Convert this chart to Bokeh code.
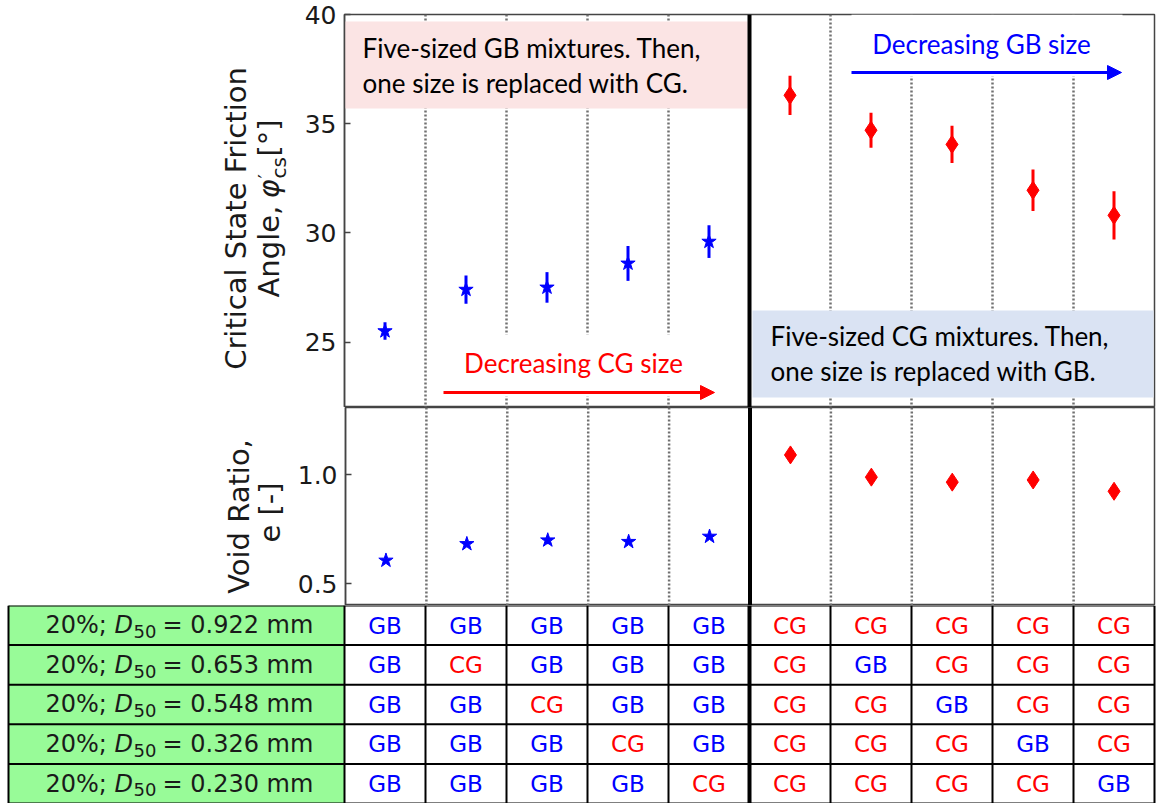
import math

from bokeh.plotting import figure
from bokeh.layouts import column, row
from bokeh.models import (Range1d, FixedTicker, PrintfTickFormatter, Span, Label,
                          Arrow, NormalHead, ColumnDataSource)
from bokeh.core.properties import value
from bokeh.embed import file_html
from bokeh.resources import INLINE

# ---------------------------------------------------------------- data
# Critical state friction angle (deg) and half-width of its error bar
gb_phi = [25.5, 27.4, 27.5, 28.6, 29.6]
gb_phi_err = [0.4, 0.65, 0.7, 0.8, 0.75]
cg_phi = [36.3, 34.7, 34.05, 31.95, 30.8]
cg_phi_err = [0.9, 0.8, 0.85, 0.95, 1.1]

# Void ratio and half-width of its error bar
gb_e = [0.607, 0.683, 0.700, 0.693, 0.717]
gb_e_err = [0.008, 0.008, 0.018, 0.010, 0.010]
cg_e = [1.092, 0.990, 0.967, 0.977, 0.925]
cg_e_err = [0.012, 0.015, 0.025, 0.018, 0.025]

# Size fractions (20% each) and the material used for each one in every mixture
d50_labels = ["0.922", "0.653", "0.548", "0.326", "0.230"]
materials = [
    ["GB", "GB", "GB", "GB", "GB", "CG", "CG", "CG", "CG", "CG"],
    ["GB", "CG", "GB", "GB", "GB", "CG", "GB", "CG", "CG", "CG"],
    ["GB", "GB", "CG", "GB", "GB", "CG", "CG", "GB", "CG", "CG"],
    ["GB", "GB", "GB", "CG", "GB", "CG", "CG", "CG", "GB", "CG"],
    ["GB", "GB", "GB", "GB", "CG", "CG", "CG", "CG", "CG", "GB"],
]

phi_ticks = [25, 30, 35, 40]
e_ticks = [0.5, 1.0]

# ---------------------------------------------------------------- layout
W = 1159
LEFT = 344          # x of the panels' left edge in px
AXIS_W = 50         # border reserved for the tick labels
TITLE_W = LEFT - AXIS_W
COL = 81            # width of one mixture column in px
NCOL = 10
RIGHT = W - LEFT - NCOL * COL
TOP_PAD = 14
PHI_H = 393
E_H = 198
TAB_H = 198
PHI_RANGE = (22, 40)
E_RANGE = (0.40, 1.31)
LIFT = 0.38         # raise of an "alphabetic" anchor, in em, so glyphs sit on it

BLUE = "#0000FF"
RED = "#FF0000"
DARK = "#444444"
INK = "#1a1a1a"
DOT = "#707070"
CAL = "Lato"        # Calibri-like face for the callouts
MPL = "DejaVu Sans"
CALLOUT = 26

n_gb = len(gb_phi)
x_gb = [i + 0.5 for i in range(n_gb)]
x_cg = [n_gb + i + 0.5 for i in range(len(cg_phi))]
separators = [i for i in range(1, NCOL) if i != n_gb]


def px_x(px):
    return (px - LEFT) / COL


def phi_y(py):
    lo, hi = PHI_RANGE
    return hi - (py - TOP_PAD) * (hi - lo) / PHI_H


def blank(width, height, xr, yr):
    p = figure(width=width, height=height, x_range=xr, y_range=yr,
               x_axis_location=None, y_axis_location=None,
               toolbar_location=None, output_backend="svg",
               min_border=0, min_border_left=0, min_border_right=0,
               min_border_top=0, min_border_bottom=0)
    p.frame_align = False
    p.grid.grid_line_color = None
    p.outline_line_color = None
    p.background_fill_color = "white"
    p.border_fill_color = "white"
    return p


def panel(height, yr, ticks, fmt, top):
    p = figure(width=W - TITLE_W, height=height, x_range=Range1d(0, NCOL), y_range=yr,
               x_axis_location=None, y_axis_location="left",
               toolbar_location=None, output_backend="svg",
               min_border_left=AXIS_W, min_border_right=RIGHT,
               min_border_top=top, min_border_bottom=0)
    p.frame_align = False
    p.grid.grid_line_color = None
    p.outline_line_color = DARK
    p.outline_line_width = 1.5
    p.background_fill_color = "white"
    p.border_fill_color = "white"
    ax = p.yaxis[0]
    ax.ticker = FixedTicker(ticks=ticks)
    ax.formatter = PrintfTickFormatter(format=fmt)
    ax.major_tick_in = 6
    ax.major_tick_out = 0
    ax.minor_tick_line_color = None
    ax.axis_line_color = DARK
    ax.axis_line_width = 1.5
    ax.major_tick_line_color = DARK
    ax.major_tick_line_width = 1.5
    ax.major_label_text_font = MPL
    ax.major_label_text_font_size = "25px"
    ax.major_label_text_color = INK
    ax.major_label_standoff = 8
    for s in separators:
        p.add_layout(Span(location=s, dimension="height", line_color=DOT,
                          line_width=2.5, line_dash="2 2", level="underlay"))
    return p


def errorbars(p, xs, ys, errs, color, marker, size):
    src = ColumnDataSource(dict(x=xs, y=ys,
                                lo=[v - e for v, e in zip(ys, errs)],
                                hi=[v + e for v, e in zip(ys, errs)]))
    p.segment(x0="x", y0="lo", x1="x", y1="hi", source=src,
              line_color=color, line_width=3)
    p.scatter(x="x", y="y", source=src, marker=marker, size=size,
              fill_color=color, line_color=color)


def vtext(p, x, y, text, size, align="center", style="normal"):
    # rotated (bottom-to-top) title text in a title strip; x is the baseline in px
    p.text(x=[x - LIFT * size], y=[y], text=[text], angle=math.pi / 2, text_align=align,
           text_baseline="alphabetic", text_font=value(MPL),
           text_font_size=value(f"{size}px"), text_font_style=style, text_color=INK)


def callout(p, px, py, text, color, align="left"):
    p.add_layout(Label(x=px_x(px), y=phi_y(py - LIFT * CALLOUT), text=text, text_font=CAL,
                       text_font_size=f"{CALLOUT}px", text_color=color,
                       text_align=align, text_baseline="alphabetic"))


# ---------------------------------------------------------------- friction angle panel
p1 = panel(TOP_PAD + PHI_H, Range1d(*PHI_RANGE), phi_ticks, "%d", TOP_PAD)

# callout boxes
p1.quad(left=[0.0], right=[px_x(747)], top=[phi_y(21)], bottom=[phi_y(108)],
        fill_color="#FBE4E4", line_color=None)
p1.quad(left=[px_x(752)], right=[px_x(1153)], top=[phi_y(310)], bottom=[phi_y(397)],
        fill_color="#DAE3F3", line_color=None)
# white backing behind the trend arrows
p1.quad(left=[px_x(443), px_x(851)], right=[px_x(716), px_x(1122)],
        top=[phi_y(334), phi_y(14)], bottom=[phi_y(396), phi_y(76)],
        fill_color="white", line_color=None)

errorbars(p1, x_gb, gb_phi, gb_phi_err, BLUE, "star", 15)
errorbars(p1, x_cg, cg_phi, cg_phi_err, RED, "diamond", 18)

p1.add_layout(Span(location=n_gb, dimension="height", line_color="black", line_width=4))

callout(p1, 362, 57, "Five-sized GB mixtures. Then,", "black")
callout(p1, 362, 92, "one size is replaced with CG.", "black")
callout(p1, 770, 345, "Five-sized CG mixtures. Then,", "black")
callout(p1, 770, 380, "one size is replaced with GB.", "black")
callout(p1, 573, 372, "Decreasing CG size", RED, align="center")
callout(p1, 981, 53, "Decreasing GB size", BLUE, align="center")

p1.add_layout(Arrow(x_start=px_x(443), y_start=phi_y(392), x_end=px_x(714), y_end=phi_y(392),
                    line_color=RED, line_width=3,
                    end=NormalHead(size=14, fill_color=RED, line_color=RED, line_width=1)))
p1.add_layout(Arrow(x_start=px_x(851), y_start=phi_y(72), x_end=px_x(1121), y_end=phi_y(72),
                    line_color=BLUE, line_width=3,
                    end=NormalHead(size=14, fill_color=BLUE, line_color=BLUE, line_width=1)))

# title strip for the friction angle axis (px coordinates, y down)
t1 = blank(TITLE_W, TOP_PAD + PHI_H, Range1d(0, TITLE_W), Range1d(TOP_PAD + PHI_H, 0))
vtext(t1, 247, 218, "Critical State Friction", 29)
vtext(t1, 280, 297, "Angle, ", 29, align="left")
vtext(t1, 280, 198, "\u03c6", 29, align="left", style="italic")
vtext(t1, 272, 178, "\u2032", 20, align="left")
vtext(t1, 286, 178, "cs", 20, align="left")
vtext(t1, 280, 156, "[\u00b0]", 29, align="left")

# ---------------------------------------------------------------- void ratio panel
p2 = panel(E_H, Range1d(*E_RANGE), e_ticks, "%.1f", 0)
errorbars(p2, x_gb, gb_e, gb_e_err, BLUE, "star", 15)
errorbars(p2, x_cg, cg_e, cg_e_err, RED, "diamond", 18)
p2.add_layout(Span(location=n_gb, dimension="height", line_color="black", line_width=4))

t2 = blank(TITLE_W, E_H, Range1d(0, TITLE_W), Range1d(E_H, 0))
vtext(t2, 250, 516 - 407, "Void Ratio,", 29)
vtext(t2, 281, 512 - 407, "e [-]", 29)

# ---------------------------------------------------------------- composition table
nrow = len(d50_labels)
row_px = TAB_H / nrow
p3 = blank(W, TAB_H, Range1d(-LEFT / COL, (W - LEFT) / COL), Range1d(0, nrow))

x_tab_left = px_x(8)
p3.quad(left=x_tab_left, right=0, bottom=[nrow - 1 - i for i in range(nrow)],
        top=[nrow - i for i in range(nrow)], fill_color="#98FB98", line_color=None)

# grid lines
p3.segment(x0=[x_tab_left] * (nrow + 1), x1=[NCOL] * (nrow + 1),
           y0=list(range(nrow + 1)), y1=list(range(nrow + 1)),
           line_color="black", line_width=2)
vx = [x_tab_left] + [c for c in range(NCOL + 1) if c != n_gb]
p3.segment(x0=vx, x1=vx, y0=[0] * len(vx), y1=[nrow] * len(vx),
           line_color="black", line_width=2)
p3.add_layout(Span(location=n_gb, dimension="height", line_color="black", line_width=4))


def row_base(i, size, drop=0.0):
    # baseline ~9 px below the row centre, as data y
    return nrow - i - 0.5 - (9 + drop - LIFT * size) / row_px


cx, cy, ct, cc = [], [], [], []
for i, mrow in enumerate(materials):
    for j, m in enumerate(mrow):
        cx.append(j + 0.5)
        cy.append(row_base(i, 23))
        ct.append(m)
        cc.append(BLUE if m == "GB" else RED)
p3.text(x=cx, y=cy, text=ct, text_color=cc, text_font=value(MPL),
        text_font_size=value("23px"), text_align="center", text_baseline="alphabetic")

ly = [row_base(i, 24) for i in range(nrow)]
p3.text(x=[px_x(45)] * nrow, y=ly, text=["20%;"] * nrow, text_color=INK,
        text_font=value(MPL), text_font_size=value("24px"), text_baseline="alphabetic")
p3.text(x=[px_x(114)] * nrow, y=ly, text=["D"] * nrow, text_color=INK,
        text_font=value(MPL), text_font_size=value("24px"), text_font_style="italic",
        text_baseline="alphabetic")
p3.text(x=[px_x(133)] * nrow, y=[row_base(i, 18, drop=4) for i in range(nrow)],
        text=["50"] * nrow, text_color=INK, text_font=value(MPL),
        text_font_size=value("18px"), text_baseline="alphabetic")
p3.text(x=[px_x(162)] * nrow, y=ly, text=[f"= {d} mm" for d in d50_labels],
        text_color=INK, text_font=value(MPL), text_font_size=value("24px"),
        text_baseline="alphabetic")

layout = column(row(t1, p1, spacing=0), row(t2, p2, spacing=0), p3, spacing=0)
open("out.html", "w").write(file_html(layout, INLINE))
